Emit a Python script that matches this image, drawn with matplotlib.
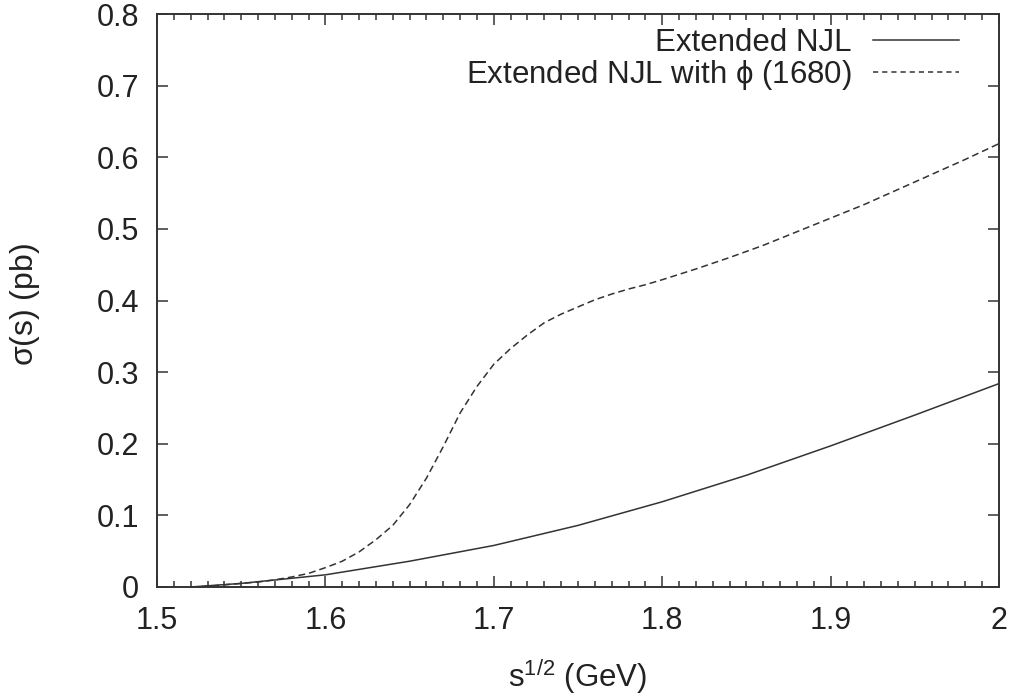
import matplotlib
matplotlib.use("Agg")
import matplotlib.pyplot as plt
from matplotlib.ticker import MultipleLocator, FuncFormatter

plt.rcParams['font.family'] = ['Liberation Sans', 'DejaVu Sans']

# Extended NJL (solid)
x_njl = [1.52, 1.55, 1.60, 1.65, 1.70, 1.75, 1.80, 1.85, 1.90, 1.95, 2.00]
y_njl = [0.000, 0.005, 0.017, 0.036, 0.058, 0.086, 0.119, 0.156, 0.197, 0.240, 0.284]

# Extended NJL with phi(1680) (dashed)
x_phi = [1.52, 1.53, 1.54, 1.55, 1.56, 1.57, 1.58, 1.59, 1.60, 1.61, 1.62, 1.63,
         1.64, 1.65, 1.66, 1.67, 1.68, 1.69, 1.70, 1.71, 1.72, 1.73, 1.74, 1.75,
         1.76, 1.77, 1.78, 1.79, 1.80, 1.82, 1.84, 1.86, 1.88, 1.90, 1.92, 1.94,
         1.96, 1.98, 2.00]
y_phi = [0.000, 0.001, 0.003, 0.005, 0.007, 0.010, 0.014, 0.019, 0.027, 0.036, 0.049, 0.066,
         0.086, 0.115, 0.152, 0.196, 0.243, 0.280, 0.311, 0.333, 0.352, 0.369, 0.381, 0.391,
         0.401, 0.409, 0.416, 0.422, 0.429, 0.444, 0.460, 0.477, 0.496, 0.515, 0.534, 0.555,
         0.576, 0.597, 0.619]

labels = ["Extended NJL", r"Extended NJL with $\mathregular{\phi}$ (1680)"]

W, H = 1017, 696
fig = plt.figure(figsize=(W / 100, H / 100), dpi=100)
ax = fig.add_axes([157 / W, 1 - 587 / H, (999 - 157) / W, (587 - 14) / H])

col = '#333333'
tcol = '#222222'
ax.plot(x_njl, y_njl, color=col, lw=1.1, label=labels[0])
ax.plot(x_phi, y_phi, color=col, lw=1.1, dashes=(4.5, 2.6), label=labels[1])

ax.set_xlim(1.5, 2.0)
ax.set_ylim(0, 0.8)
ax.xaxis.set_major_locator(MultipleLocator(0.1))
ax.xaxis.set_minor_locator(MultipleLocator(0.01))
ax.yaxis.set_major_locator(MultipleLocator(0.1))

def fmt(v, pos):
    s = f"{v:.1f}"
    if s.endswith(".0"):
        s = s[:-2]
    return s

ax.xaxis.set_major_formatter(FuncFormatter(fmt))
ax.yaxis.set_major_formatter(FuncFormatter(fmt))

ax.tick_params(which='both', direction='in', top=True, right=True, colors=col,
               labelcolor=tcol, labelsize=22, width=1.1)
ax.tick_params(which='major', length=8)
ax.tick_params(axis='x', which='major', pad=14)
ax.tick_params(axis='y', which='major', pad=13)
ax.tick_params(which='minor', length=4)
ax.tick_params(axis='y', which='minor', left=False, right=False)
for sp in ax.spines.values():
    sp.set_color(col)
    sp.set_linewidth(1.4)

ax.set_xlabel(r"s$^{\mathregular{1/2}}$ (GeV)", fontsize=22.5, color=tcol)
ax.set_ylabel(r"$\mathregular{\sigma}$(s) (pb)", fontsize=23, color=tcol)
ax.xaxis.set_label_coords(0.5, -0.122)
ax.yaxis.set_label_coords(-0.1366, 0.493)

leg = ax.legend(loc='upper right', frameon=False, markerfirst=False, fontsize=22.5,
                handlelength=2.75, handletextpad=0.67, labelspacing=0.0,
                borderpad=0.4, borderaxespad=0.05, bbox_to_anchor=(0.9689, 1.0))
for t in leg.get_texts():
    t.set_color(tcol)
leg.get_lines()[1].set_dashes((3.4, 2.6))

fig.savefig("out.png", dpi=100)
